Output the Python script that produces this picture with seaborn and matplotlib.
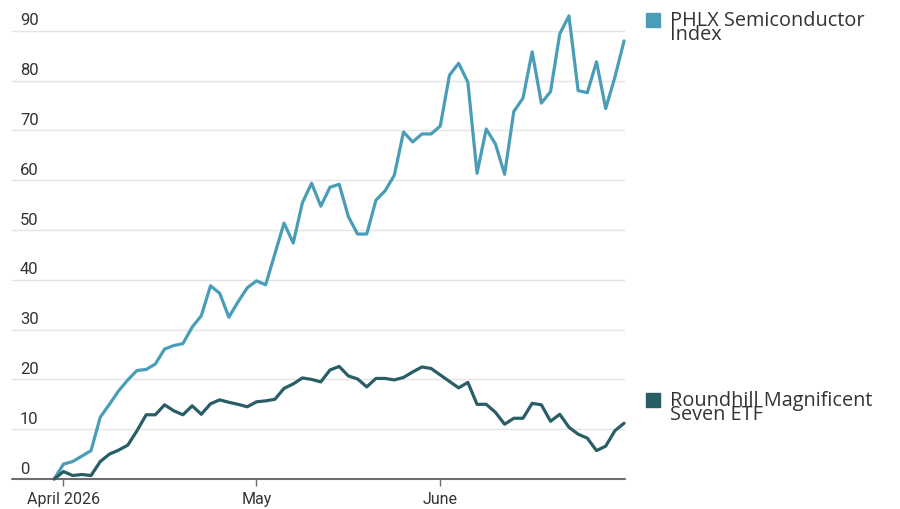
import numpy as np
import pandas as pd
import matplotlib
matplotlib.use("Agg")
import matplotlib.pyplot as plt
import seaborn as sns

# trading days, 31 Mar - 30 Jun 2026 (US market holidays removed)
holidays = ["2026-04-03", "2026-05-25", "2026-06-19"]
days = pd.bdate_range("2026-03-31", "2026-06-30")
days = days[~days.isin(pd.to_datetime(holidays))]

# % change since 31 Mar
semis = [0, 3.0, 3.5, 4.6, 5.7, 12.4, 15.0, 17.7, 19.9, 21.8,
         22.0, 23.1, 26.1, 26.8, 27.2, 30.5, 32.8, 38.8, 37.3, 32.5,
         35.6, 38.4, 39.8, 39.0, 45.2, 51.4, 47.4, 55.5, 59.4, 54.8,
         58.6, 59.2, 52.7, 49.2, 49.2, 56.0, 57.9, 61.0, 69.7, 67.7,
         69.3, 69.3, 70.9, 81.1, 83.5, 79.7, 61.4, 70.3, 67.3, 61.2,
         73.8, 76.5, 85.8, 75.5, 77.8, 89.4, 93.0, 78.0, 77.6, 83.8,
         74.4, 80.7, 88.0]
mag7 = [0, 1.5, 0.7, 0.9, 0.7, 3.5, 5.0, 5.8, 6.8, 9.7,
        12.9, 12.9, 14.9, 13.7, 12.9, 14.7, 13.0, 15.1, 15.9, 15.4,
        15.0, 14.5, 15.5, 15.7, 16.0, 18.2, 19.1, 20.3, 20.0, 19.5,
        21.9, 22.6, 20.7, 20.1, 18.5, 20.2, 20.2, 19.9, 20.4, 21.5,
        22.5, 22.2, 20.9, 19.6, 18.3, 19.4, 15.0, 15.0, 13.4, 11.0,
        12.2, 12.2, 15.2, 14.9, 11.6, 13.0, 10.4, 9.0, 8.2, 5.7,
        6.6, 9.7, 11.2]

y_ticks = [0, 10, 20, 30, 40, 50, 60, 70, 80, 90]
month_starts = ["2026-04-01", "2026-05-01", "2026-06-01"]
month_labels = ["April 2026", "May", "June"]
names = ["PHLX Semiconductor\nIndex", "Roundhill Magnificent\nSeven ETF"]

c_semis = "#4A9DB7"
c_mag7 = "#2A5E66"

df = pd.DataFrame({"day": np.arange(len(days)), "semis": semis, "mag7": mag7})

sns.set_style("white")
plt.rcParams["font.family"] = ["Roboto", "DejaVu Sans"]

fig = plt.figure(figsize=(9, 5.1), dpi=100)
ax = fig.add_axes([12 / 900, 30 / 510, 613 / 900, 470 / 510])

for v in y_ticks[1:]:
    ax.axhline(v, color="#e4e4e4", lw=1, zorder=0)
ax.axhline(0, color="#6e6e6e", lw=1.5, zorder=1, clip_on=False)

sns.lineplot(data=df, x="day", y="semis", color=c_semis, lw=2.3, ax=ax,
             clip_on=False, zorder=3)
sns.lineplot(data=df, x="day", y="mag7", color=c_mag7, lw=2.3, ax=ax,
             clip_on=False, zorder=4)

ax.set_xlim(-4.6, 62.1)
ax.set_ylim(0, 94.4)
for s in ax.spines.values():
    s.set_visible(False)

tick_pos = [int(np.where(days == pd.Timestamp(d))[0][0]) for d in month_starts]
ax.set_xticks(tick_pos)
ax.set_xticklabels(month_labels, fontsize=11.5, color="#333333")
ax.tick_params(axis="x", length=5, width=1, color="#6e6e6e", pad=4, bottom=True)
ax.set_yticks([])
ax.set_xlabel("")
ax.set_ylabel("")

for v in y_ticks:
    ax.text(0.013, v + 0.7, str(v), transform=ax.get_yaxis_transform(),
            fontsize=12, color="#333333", ha="left", va="bottom")

# legend boxes at the right
for (name, col, ytop) in [(names[0], c_semis, 13), (names[1], c_mag7, 393)]:
    fig.patches.append(plt.Rectangle((646 / 900, 1 - (ytop + 15) / 510), 14 / 900, 14 / 510,
                                     transform=fig.transFigure, color=col))
    fig.text(670 / 900, 1 - (ytop - 2) / 510, name, fontsize=14.3, color="#333333",
             ha="left", va="top", linespacing=0.6, family=["Open Sans", "DejaVu Sans"])

fig.savefig("out.png", dpi=100)
